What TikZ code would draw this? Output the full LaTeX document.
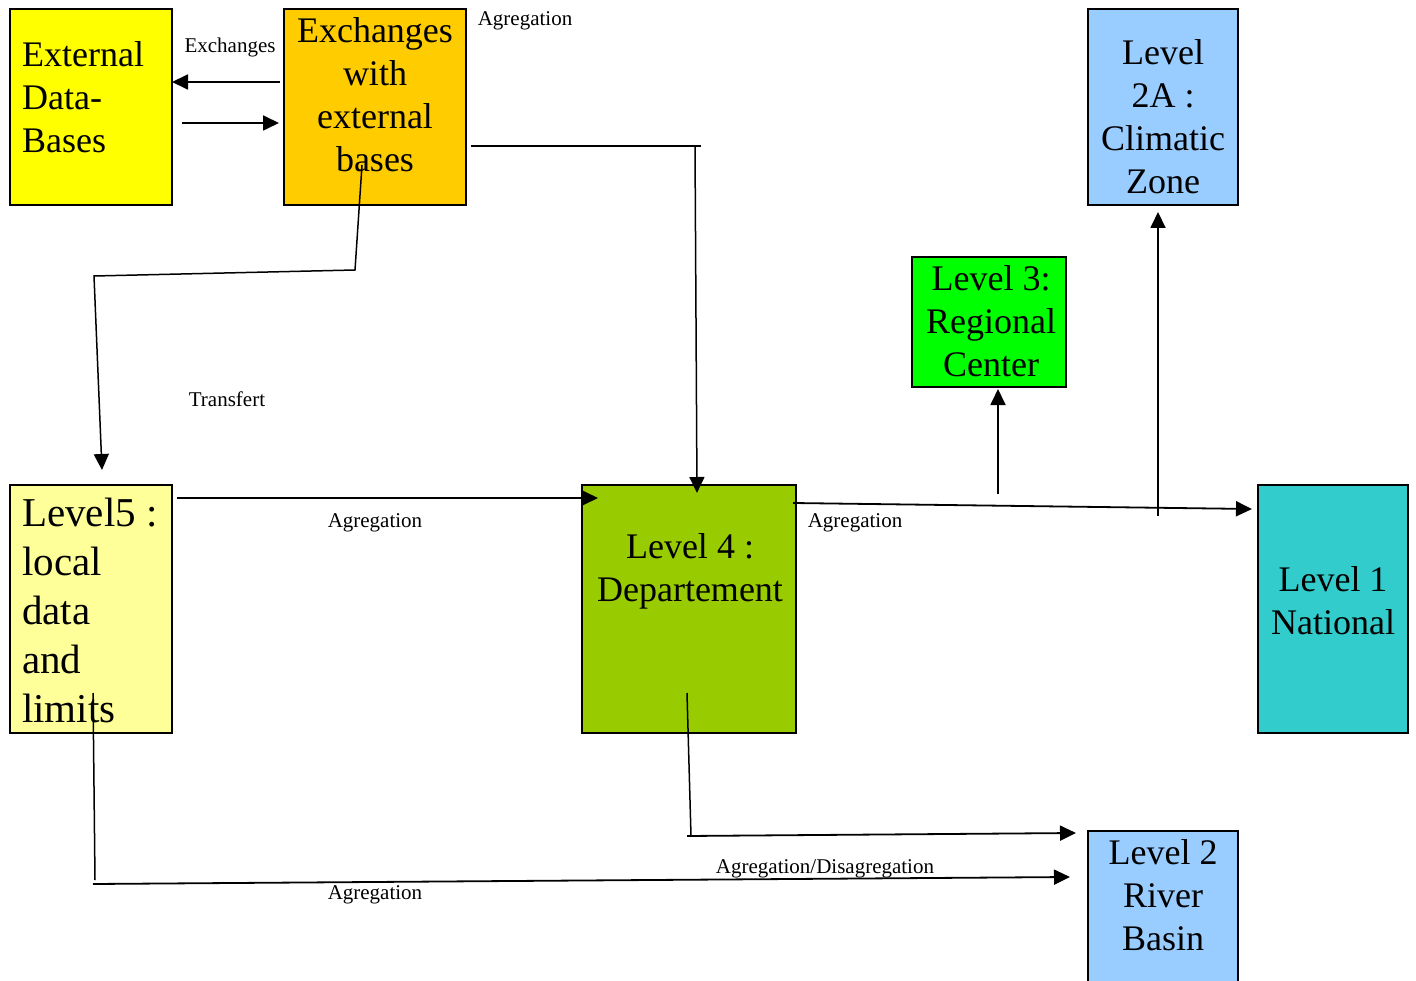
\documentclass[tikz,border=0pt]{standalone}
\usepackage{fontspec}
\setmainfont{Liberation Serif}
\usetikzlibrary{arrows.meta}
\definecolor{cext}{HTML}{FFFF00}
\definecolor{cexch}{HTML}{FFCC00}
\definecolor{cblue}{HTML}{99CCFF}
\definecolor{cgreen}{HTML}{00FF00}
\definecolor{cloc}{HTML}{FFFF99}
\definecolor{cdep}{HTML}{99CC00}
\definecolor{cnat}{HTML}{33CCCC}
\begin{document}
\begin{tikzpicture}[x=1pt,y=-1pt,
  box/.style={draw, line width=2pt, inner sep=0pt, outer sep=0pt, anchor=north west},
  big/.style={font=\fontsize{36}{43}\selectfont, inner sep=0pt},
  bigger/.style={font=\fontsize{41}{49}\selectfont, inner sep=0pt},
  lab/.style={font=\fontsize{21}{25}\selectfont, inner sep=0pt},
  con/.style={line width=1.8pt},
  arr/.style={con, -{Triangle[length=16pt,width=15pt]}}]
\useasboundingbox (0,0) rectangle (1416,981);
% boxes
\node[box, fill=cext, minimum width=162pt, minimum height=196pt] (ext) at (10,9) {};
\node[box, fill=cexch, minimum width=182pt, minimum height=196pt] (exch) at (284,9) {};
\node[box, fill=cblue, minimum width=150pt, minimum height=196pt] (l2a) at (1088,9) {};
\node[box, fill=cgreen, minimum width=154pt, minimum height=130pt] (l3) at (912,257) {};
\node[box, fill=cloc, minimum width=162pt, minimum height=248pt] (l5) at (10,485) {};
\node[box, fill=cdep, minimum width=214pt, minimum height=248pt] (l4) at (582,485) {};
\node[box, fill=cnat, minimum width=150pt, minimum height=248pt] (l1) at (1258,485) {};
\node[box, fill=cblue, minimum width=150pt, minimum height=165pt] (l2) at (1088,831) {};
% box texts
\node[big, align=left, anchor=west] (text) at (22,97) {External\\Data-\\Bases};
\node[big, align=center] (texch) at (375,95) {Exchanges\\with\\external\\bases};
\node[big, align=center] (tl2a) at (1163,117) {Level\\2A :\\Climatic\\Zone};
\node[big, align=center] (tl3) at (991,321) {Level 3:\\Regional\\Center};
\node[bigger, align=left, anchor=west] (tl5) at (22,610) {Level5 :\\local\\data\\and\\limits};
\node[big, align=center] (tl4) at (690,571) {Level 4 :\\Departement};
\node[big, align=center] (tl1) at (1333,601) {Level 1\\National};
\node[big, align=center] (tl2) at (1163,895) {Level 2\\River\\Basin};
% labels
\node[lab] (lexch) at (230,47) {Exchanges};
\node[lab] (lagr1) at (525,21) {Agregation};
\node[lab] (ltr) at (227,399) {Transfert};
\node[lab] (lagr2) at (375,523) {Agregation};
\node[lab] (lagr3) at (855,523) {Agregation};
\node[lab] (ldis) at (825,869) {Agregation/Disagregation};
\node[lab] (lagr4) at (375,895) {Agregation};
% connector points
\coordinate (e1) at (280,82);
\coordinate (e2) at (182,123);
\coordinate (t0) at (362,165);
\coordinate (t1) at (355,270);
\coordinate (t2) at (94,276);
\coordinate (t3) at (102,470);
\coordinate (g0) at (471,146);
\coordinate (g1) at (701,146);
\coordinate (g2) at (695,146);
\coordinate (g3) at (697,493);
\coordinate (h0) at (177,498);
\coordinate (h1) at (598,498);
\coordinate (n0) at (793,503);
\coordinate (n1) at (1252,509);
\coordinate (r0) at (998,494);
\coordinate (r1) at (998,389);
\coordinate (c0) at (1158,516);
\coordinate (c1) at (1158,212);
\coordinate (d0) at (687,693);
\coordinate (d1) at (691,836);
\coordinate (d2) at (687,836);
\coordinate (d3) at (1076,833);
\coordinate (b0) at (93,693);
\coordinate (b1) at (95,880);
\coordinate (b2) at (93,884);
\coordinate (b3) at (1070,877);
% connectors
\draw[arr] (e1) -- (ext.east |- e1);
\draw[arr, shorten >=5pt] (e2) -- (exch.west |- e2);
\draw[arr, line width=1.5pt] (t0) -- (t1) -- (t2) -- (t3);
\draw[con] (g0) -- (g1);
\draw[arr, line width=1.5pt] (g2) -- (g3);
\draw[arr] (h0) -- (h1);
\draw[arr] (n0) -- (n1);
\draw[arr] (r0) -- (r1);
\draw[arr] (c0) -- (c1);
\draw[con, line width=1.5pt] (d0) -- (d1);
\draw[arr] (d2) -- (d3);
\draw[con, line width=1.5pt] (b0) -- (b1);
\draw[arr] (b2) -- (b3);
\end{tikzpicture}
\end{document}
